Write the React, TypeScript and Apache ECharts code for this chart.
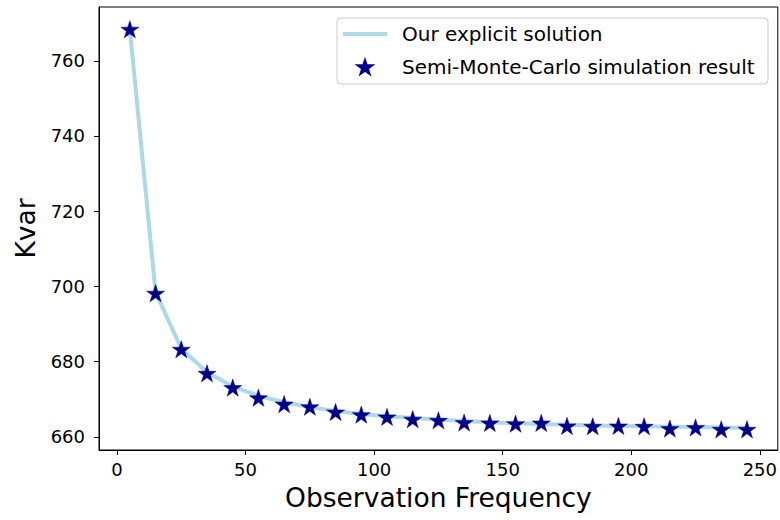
import React, { useEffect, useRef } from "react";
import * as echarts from "echarts";

const frequencies = [5, 15, 25, 35, 45, 55, 65, 75, 85, 95, 105, 115, 125, 135, 145, 155, 165, 175, 185, 195, 205, 215, 225, 235, 245];
const explicitSolution = [768.4, 698.4, 683.5, 677.2, 673.4, 670.9, 669.2, 667.9, 666.9, 666.1, 665.5, 665.0, 664.6, 664.2, 663.9, 663.6, 663.4, 663.2, 663.0, 662.9, 662.8, 662.7, 662.6, 662.5, 662.4];
const simulationResult = [768.4, 698.2, 683.3, 676.9, 673.1, 670.4, 668.7, 668.0, 666.6, 665.9, 665.3, 664.7, 664.4, 663.8, 663.7, 663.5, 663.7, 662.9, 662.8, 662.9, 662.8, 662.2, 662.5, 662.0, 662.0];
const xTicks = [0, 50, 100, 150, 200, 250];
const yTicks = [660, 680, 700, 720, 740, 760];

function starPath(): string {
  const parts: string[] = [];
  for (let i = 0; i < 10; i++) {
    const a = ((-90 + i * 36) * Math.PI) / 180;
    const r = i % 2 === 0 ? 10 : 3.82;
    parts.push(`${i === 0 ? "M" : "L"}${(r * Math.cos(a)).toFixed(3)} ${(r * Math.sin(a)).toFixed(3)}`);
  }
  return "path://" + parts.join(" ") + " Z";
}

export default function App() {
  const ref = useRef<HTMLDivElement>(null);
  useEffect(() => {
    if (!ref.current) return;
    const chart = echarts.init(ref.current, undefined, { renderer: "svg" });
    const font = "DejaVu Sans";
    const star = starPath();
    chart.setOption({
      animation: false,
      backgroundColor: "#ffffff",
      textStyle: { fontFamily: font },
      grid: {
        left: 99,
        right: 2,
        top: 7,
        bottom: 70,
        show: true,
        borderColor: "#000000",
        borderWidth: 1,
        backgroundColor: "transparent",
      },
      legend: {
        orient: "vertical",
        left: 343,
        top: 24,
        padding: 0,
        itemWidth: 44,
        itemHeight: 14,
        itemGap: 13,
        selectedMode: false,
        textStyle: { fontSize: 20, color: "#000000", fontFamily: font, padding: [0, 0, 0, 10] },
        data: [
          { name: "Our explicit solution", icon: "path://M0 0 H44 V4 H0 Z", itemStyle: { color: "#add8e6" } },
          { name: "Semi-Monte-Carlo simulation result", icon: star },
        ],
        z: 10,
      },
      graphic: [
        {
          type: "rect",
          shape: { x: 337, y: 18, width: 431, height: 66, r: 4 },
          style: { fill: "rgba(255,255,255,0.8)", stroke: "#cccccc", lineWidth: 1 },
          z: 5,
        },
      ],
      xAxis: {
        type: "value",
        min: -7,
        max: 257,
        name: "Observation Frequency",
        nameLocation: "middle",
        nameGap: 34,
        nameTextStyle: { fontSize: 26.5, color: "#000000", fontFamily: font },
        axisLine: { show: true, onZero: false, lineStyle: { color: "#000000", width: 1 } },
        axisTick: { show: true, length: 5, customValues: xTicks, lineStyle: { color: "#000000" } },
        axisLabel: { customValues: xTicks, fontSize: 18, color: "#000000", margin: 10, fontFamily: font },
        splitLine: { show: false },
      },
      yAxis: {
        type: "value",
        min: 656.5,
        max: 774.3,
        name: "Kvar",
        nameLocation: "middle",
        nameGap: 60,
        nameTextStyle: { fontSize: 26.5, color: "#000000", fontFamily: font },
        axisLine: { show: true, onZero: false, lineStyle: { color: "#000000", width: 1 } },
        axisTick: { show: true, length: 5, customValues: yTicks, lineStyle: { color: "#000000" } },
        axisLabel: { customValues: yTicks, fontSize: 18, color: "#000000", margin: 14, fontFamily: font },
        splitLine: { show: false },
      },
      series: [
        {
          name: "Our explicit solution",
          type: "line",
          data: frequencies.map((f, i) => [f, explicitSolution[i]]),
          symbol: "none",
          showSymbol: false,
          lineStyle: { color: "#add8e6", width: 4 },
          itemStyle: { color: "#add8e6" },
          z: 2,
        },
        {
          name: "Semi-Monte-Carlo simulation result",
          type: "scatter",
          data: frequencies.map((f, i) => [f, simulationResult[i]]),
          symbol: star,
          symbolSize: 18,
          symbolKeepAspect: true,
          itemStyle: { color: "#00008b", borderColor: "#00008b", borderWidth: 0.5, opacity: 1 },
          z: 3,
        },
      ],
    });
    return () => chart.dispose();
  }, []);
  return <div ref={ref} style={{ position: "fixed", left: 0, top: 0, width: 780, height: 520 }} />;
}
